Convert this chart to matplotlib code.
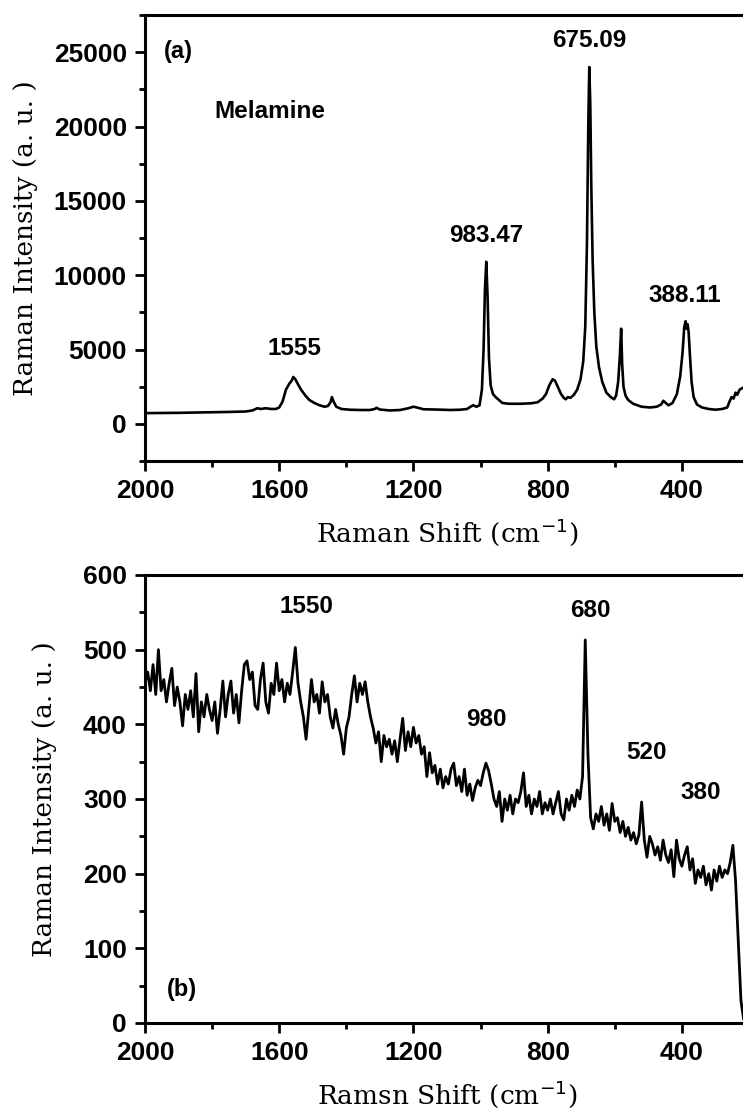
import numpy as np
import matplotlib
matplotlib.use("Agg")
import matplotlib.pyplot as plt
from matplotlib.ticker import MultipleLocator

# (a) melamine standard spectrum
shift_a = [2000, 1900, 1800, 1750, 1700, 1680, 1665, 1655, 1640, 1625, 1610, 1600, 1590, 1580,
           1570, 1563, 1558, 1552, 1545, 1535, 1522, 1510, 1495, 1480, 1465, 1455, 1447, 1443,
           1438, 1430, 1415, 1390, 1360, 1330, 1315, 1310, 1300, 1270, 1240, 1215, 1200, 1190,
           1170, 1130, 1090, 1060, 1040, 1030, 1022, 1012, 1003, 996, 991, 987, 983, 979, 975,
           970, 963, 955, 945, 935, 915, 880, 850, 830, 815, 805, 795, 785, 778, 770, 760, 752,
           746, 740, 732, 722, 712, 702, 694, 688, 683, 679, 676, 673, 670, 666, 661, 655, 647,
           637, 625, 612, 602, 596, 590, 585, 581, 578, 574, 568, 560, 545, 520, 495, 475, 462,
           455, 448, 440, 428, 415, 405, 398, 393, 389, 386, 383, 380, 376, 371, 365, 355, 340,
           320, 300, 280, 265, 258, 252, 246, 240, 235, 228, 220]
intensity_a = [720, 740, 780, 800, 830, 900, 1050, 1000, 1050, 1000, 1000, 1100, 1500, 2300,
               2700, 2900, 3150, 3000, 2700, 2300, 1900, 1600, 1400, 1250, 1150, 1200, 1450, 1800,
               1500, 1150, 1000, 950, 930, 930, 1000, 1080, 960, 900, 930, 1050, 1150, 1100,
               980, 960, 930, 950, 1000, 1150, 1250, 1150, 1250, 2300, 5000, 9000, 10900, 8500,
               4500, 2600, 2000, 1800, 1600, 1400, 1350, 1350, 1380, 1450, 1700, 2000, 2600,
               3000, 2900, 2500, 2000, 1750, 1650, 1800, 1750, 1950, 2300, 3000, 4200, 6500,
               12000, 20000, 24000, 21500, 16000, 11000, 7500, 5200, 3800, 2800, 2100, 1800,
               1650, 1900, 2800, 4500, 6400, 4000, 2500, 1900, 1600, 1350, 1150, 1100, 1150,
               1300, 1550, 1400, 1250, 1400, 2000, 3200, 4800, 6500, 6900, 6400, 6700, 6200,
               4600, 2800, 1800, 1300, 1100, 1000, 950, 1000, 1100, 1500, 1800, 1700, 2100,
               1950, 2300, 2400]

# (b) sample spectrum, every 8 cm-1 from 2000 down
intensity_b = [
    455, 470, 445, 480, 440, 500, 445, 460, 430, 455,
    475, 425, 450, 430, 398, 440, 420, 445, 410, 468,
    390, 430, 410, 440, 420, 405, 430, 388, 420, 458,
    410, 440, 458, 415, 440, 402, 445, 480, 485, 460,
    470, 425, 420, 460, 482, 430, 415, 455, 440, 482,
    445, 460, 430, 455, 440, 470, 503, 455, 430, 410,
    380, 420, 460, 430, 440, 415, 457, 430, 440, 410,
    395, 420, 400, 385, 360, 395, 410, 440, 465, 430,
    455, 440, 457, 430, 410, 395, 375, 390, 350, 385,
    370, 380, 360, 378, 350, 380, 408, 365, 390, 370,
    396, 375, 385, 360, 370, 330, 362, 335, 345, 320,
    340, 315, 330, 320, 340, 348, 318, 330, 310, 340,
    305, 320, 298, 315, 325, 318, 335, 348, 338, 320,
    300, 290, 310, 270, 300, 285, 305, 280, 300, 295,
    310, 335, 290, 305, 280, 300, 290, 310, 280, 295,
    285, 300, 280, 295, 310, 280, 272, 300, 285, 305,
    290, 312, 300, 330, 513, 360, 275, 260, 280, 270,
    290, 265, 280, 258, 294, 270, 275, 255, 270, 250,
    262, 245, 255, 240, 252, 296, 245, 222, 250, 240,
    225, 236, 218, 245, 225, 215, 232, 196, 245, 220,
    210, 225, 236, 205, 220, 187, 205, 195, 210, 185,
    200, 178, 205, 190, 210, 195, 205, 200, 215, 238,
    190, 110, 30, 5, 0]
shift_b = 2000 - 8 * np.arange(len(intensity_b))

labels_a = ["1555", "983.47", "675.09", "388.11"]
label_pos_a = [(1556, 5040), (984, 12700), (677, 25800), (391, 8600)]
labels_b = ["1550", "980", "680", "520", "380"]
label_pos_b = [(1520, 558), (984, 407), (674, 552), (504, 362), (343, 309)]

W, H = 743, 1113
fig = plt.figure(figsize=(W / 100, H / 100), dpi=100)

tick_font = dict(family="Liberation Sans", weight="bold", size=19)
note_font = dict(family="Liberation Sans", weight="bold", size=17.5)
label_font = dict(family="DejaVu Serif", size=19)


def style_axes(ax):
    for s in ax.spines.values():
        s.set_linewidth(2.2)
    ax.tick_params(which="both", direction="out", top=False, right=False, width=2)
    ax.tick_params(which="major", length=7, pad=6)
    ax.tick_params(which="minor", length=4)
    for t in ax.get_xticklabels() + ax.get_yticklabels():
        t.set_fontfamily(tick_font["family"])
        t.set_fontweight(tick_font["weight"])
        t.set_fontsize(tick_font["size"])


# axes run past the right border, like the cropped original
ax1 = fig.add_axes([145 / W, 1 - 461 / H, 604 / W, 446 / H])
ax1.plot(shift_a, intensity_a, color="black", lw=1.9)
ax1.set_xlim(2000, 200)
ax1.set_ylim(-2500, 27500)
ax1.xaxis.set_major_locator(MultipleLocator(400))
ax1.xaxis.set_minor_locator(MultipleLocator(200))
ax1.yaxis.set_major_locator(MultipleLocator(5000))
ax1.yaxis.set_minor_locator(MultipleLocator(2500))
ax1.set_xticks([2000, 1600, 1200, 800, 400])
style_axes(ax1)
ax1.set_ylabel("Raman Intensity (a. u. )", **label_font)
ax1.yaxis.set_label_coords(-0.177, 0.5)
ax1.set_xlabel("Raman Shift (cm$^{-1}$)", **label_font)
ax1.xaxis.set_label_coords(0.5, -0.125)
for txt, (x, y) in zip(labels_a, label_pos_a):
    ax1.text(x, y, txt, ha="center", va="center", **note_font)
ax1.text(1902, 25050, "(a)", ha="center", va="center", family="Liberation Sans",
         weight="bold", size=17)
ax1.text(1628, 21000, "Melamine", ha="center", va="center", **note_font)

ax2 = fig.add_axes([145 / W, 1 - 1023 / H, 604 / W, 448 / H])
ax2.plot(shift_b, intensity_b, color="black", lw=2.0)
ax2.set_xlim(2000, 200)
ax2.set_ylim(0, 600)
ax2.xaxis.set_major_locator(MultipleLocator(400))
ax2.xaxis.set_minor_locator(MultipleLocator(200))
ax2.yaxis.set_major_locator(MultipleLocator(100))
ax2.yaxis.set_minor_locator(MultipleLocator(50))
ax2.set_xticks([2000, 1600, 1200, 800, 400])
style_axes(ax2)
ax2.set_ylabel("Raman Intensity (a. u. )", **label_font)
ax2.yaxis.set_label_coords(-0.146, 0.5)
ax2.set_xlabel("Ramsn Shift (cm$^{-1}$)", **label_font)
ax2.xaxis.set_label_coords(0.5, -0.123)
for txt, (x, y) in zip(labels_b, label_pos_b):
    ax2.text(x, y, txt, ha="center", va="center", **note_font)
ax2.text(1889, 45, "(b)", ha="center", va="center", family="Liberation Sans",
         weight="bold", size=17)

fig.savefig("out.png", dpi=100)
